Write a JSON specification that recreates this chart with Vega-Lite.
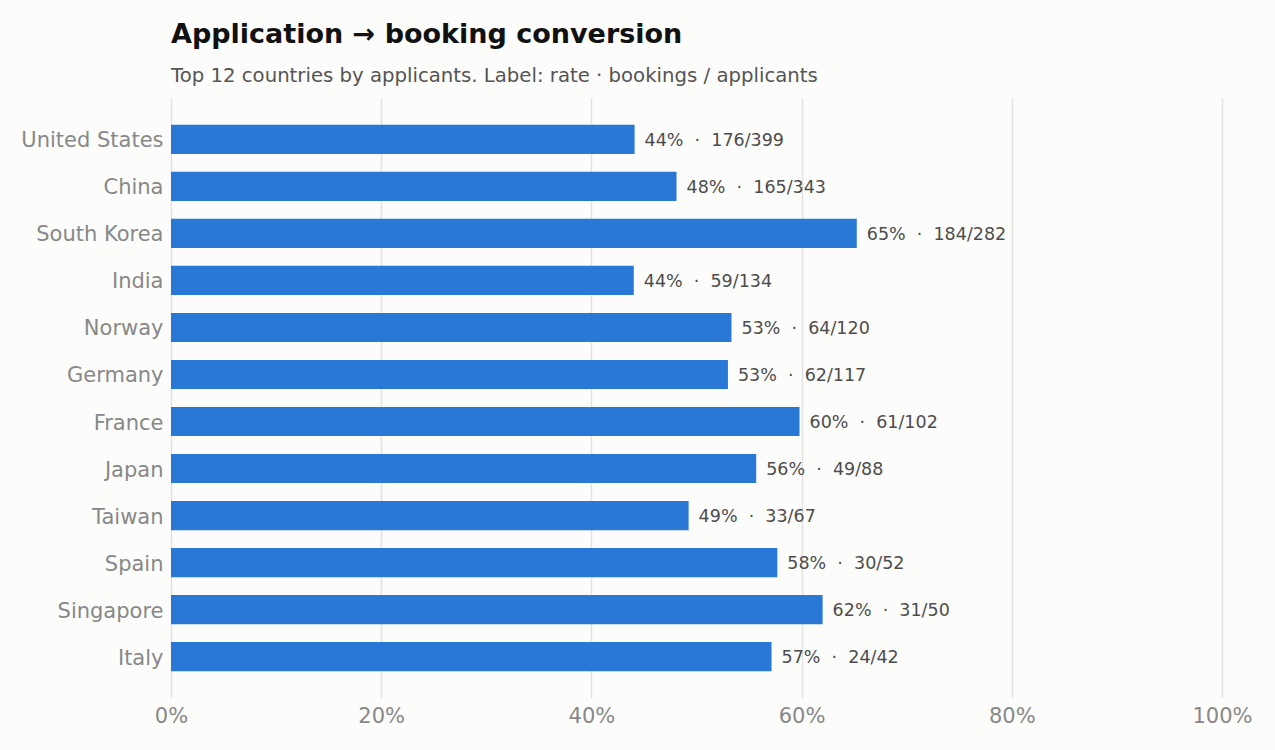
{
  "$schema": "https://vega.github.io/schema/vega-lite/v6.json",
  "width": 1051,
  "height": 600,
  "autosize": {"type": "none"},
  "padding": {"left": 171, "top": 98, "right": 53, "bottom": 52},
  "background": "#fcfcfb",
  "title": {
    "text": "Application → booking conversion",
    "subtitle": "Top 12 countries by applicants. Label: rate · bookings / applicants",
    "anchor": "start",
    "frame": "group",
    "font": "DejaVu Sans",
    "fontSize": 27,
    "fontWeight": "bold",
    "color": "#111111",
    "subtitleFont": "DejaVu Sans",
    "subtitleFontSize": 19.7,
    "subtitleColor": "#555555",
    "subtitlePadding": 17,
    "offset": 11
  },
  "data": {
    "values": [
      {"country": "United States", "rate": 0.4411, "bookings": 176, "applicants": 399, "label": "44%\u00a0\u00a0·\u00a0\u00a0176/399"},
      {"country": "China", "rate": 0.4810, "bookings": 165, "applicants": 343, "label": "48%\u00a0\u00a0·\u00a0\u00a0165/343"},
      {"country": "South Korea", "rate": 0.6525, "bookings": 184, "applicants": 282, "label": "65%\u00a0\u00a0·\u00a0\u00a0184/282"},
      {"country": "India", "rate": 0.4403, "bookings": 59, "applicants": 134, "label": "44%\u00a0\u00a0·\u00a0\u00a059/134"},
      {"country": "Norway", "rate": 0.5333, "bookings": 64, "applicants": 120, "label": "53%\u00a0\u00a0·\u00a0\u00a064/120"},
      {"country": "Germany", "rate": 0.5299, "bookings": 62, "applicants": 117, "label": "53%\u00a0\u00a0·\u00a0\u00a062/117"},
      {"country": "France", "rate": 0.5980, "bookings": 61, "applicants": 102, "label": "60%\u00a0\u00a0·\u00a0\u00a061/102"},
      {"country": "Japan", "rate": 0.5568, "bookings": 49, "applicants": 88, "label": "56%\u00a0\u00a0·\u00a0\u00a049/88"},
      {"country": "Taiwan", "rate": 0.4925, "bookings": 33, "applicants": 67, "label": "49%\u00a0\u00a0·\u00a0\u00a033/67"},
      {"country": "Spain", "rate": 0.5769, "bookings": 30, "applicants": 52, "label": "58%\u00a0\u00a0·\u00a0\u00a030/52"},
      {"country": "Singapore", "rate": 0.6200, "bookings": 31, "applicants": 50, "label": "62%\u00a0\u00a0·\u00a0\u00a031/50"},
      {"country": "Italy", "rate": 0.5714, "bookings": 24, "applicants": 42, "label": "57%\u00a0\u00a0·\u00a0\u00a024/42"}
    ]
  },
  "encoding": {
    "y": {
      "field": "country",
      "type": "nominal",
      "sort": null,
      "title": null,
      "scale": {"paddingInner": 0.38, "paddingOuter": 0.57},
      "axis": {
        "ticks": false,
        "domain": false,
        "labelFont": "DejaVu Sans",
        "labelFontSize": 21,
        "labelColor": "#888888",
        "labelPadding": 8,
        "labelOffset": 2
      }
    },
    "x": {
      "field": "rate",
      "type": "quantitative",
      "title": null,
      "scale": {"domain": [0, 1], "nice": false},
      "axis": {
        "format": ".0%",
        "values": [0, 0.2, 0.4, 0.6, 0.8, 1],
        "ticks": false,
        "domain": false,
        "grid": true,
        "gridColor": "#e2e2e0",
        "gridWidth": 1.5,
        "labelFlush": false,
        "labelFont": "DejaVu Sans",
        "labelFontSize": 21,
        "labelColor": "#888888",
        "labelPadding": 7
      }
    }
  },
  "layer": [
    {
      "mark": {"type": "bar", "color": "#2a78d6"}
    },
    {
      "mark": {
        "type": "text",
        "align": "left",
        "baseline": "middle",
        "dx": 10,
        "dy": 1.5,
        "font": "DejaVu Sans",
        "fontSize": 17.5,
        "color": "#4d4d4d"
      },
      "encoding": {
        "text": {"field": "label"}
      }
    }
  ],
  "config": {
    "view": {"stroke": null}
  }
}
